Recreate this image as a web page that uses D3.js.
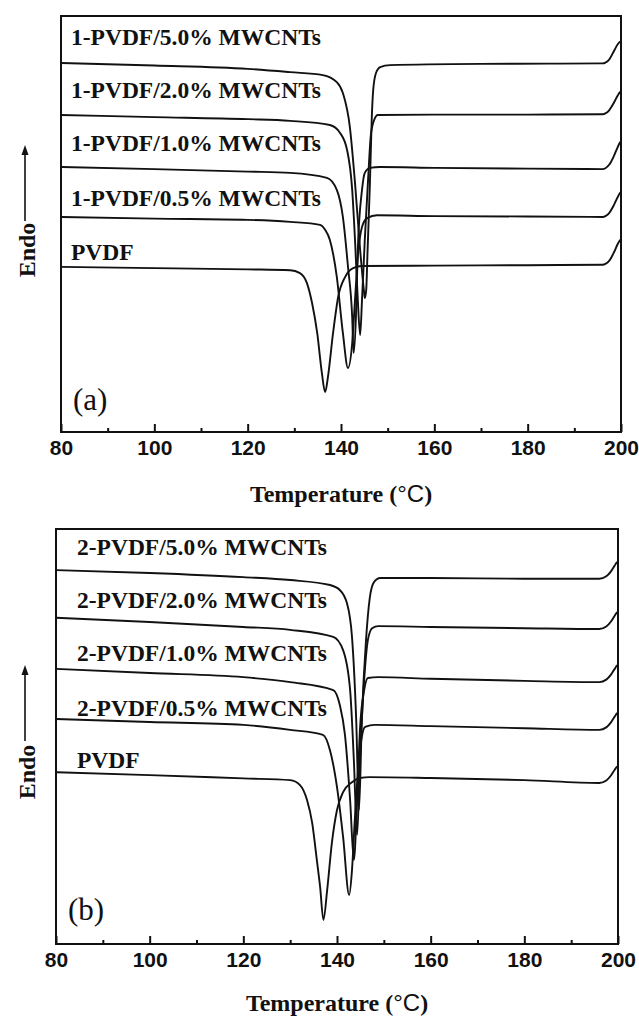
<!DOCTYPE html>
<html>
<head>
<meta charset="utf-8">
<script src="https://cdn.jsdelivr.net/npm/d3@7"></script>
<style>
  body { margin: 0; background: #fff; }
</style>
</head>
<body>
<div id="chart"></div>
<script>
// 目盛り
const xTicks = [80, 100, 120, 140, 160, 180, 200];
const xMinorTicks = [90, 110, 130, 150, 170, 190];

// (a) 1-PVDF 系列 [温度, 熱流(a.u.)]
const labelsA = ["1-PVDF/5.0% MWCNTs", "1-PVDF/2.0% MWCNTs", "1-PVDF/1.0% MWCNTs", "1-PVDF/0.5% MWCNTs", "PVDF"];
const a_5 = [[80, 88.7], [100, 88.1], [120, 87.3], [129.1, 86.5], [136.1, 85.8], [139.1, 84.1], [140.4, 81.5], [141.9, 73.3], [143.0, 59.9], [144.1, 43.8], [144.9, 34.1], [145.1, 32.2], [145.4, 34.1], [145.7, 43.8], [146.2, 59.9], [146.6, 75.7], [146.9, 82.2], [147.5, 86.3], [148.4, 87.7], [150.5, 88.2], [170, 88.5], [196, 88.6], [197.5, 89.6], [198.5, 91.6], [199.3, 93.2], [199.8, 93.8], [200, 93.9]];
const a_2 = [[80, 76.2], [100, 75.7], [120, 75.2], [129.1, 74.8], [137.6, 73.8], [139.8, 71.9], [141.3, 67.8], [142.4, 58.2], [143.0, 46.2], [143.6, 31.7], [144.1, 23.3], [144.5, 31.7], [145.1, 46.2], [145.8, 60.6], [146.4, 71.4], [147.1, 75.0], [147.9, 76.2], [160, 76.3], [180, 76.3], [196, 76.4], [197.5, 77.4], [198.5, 79.2], [199.3, 80.9], [199.8, 81.7], [200, 81.8]];
const a_1 = [[80, 63.7], [100, 63.2], [120, 62.6], [129.1, 62.3], [137.0, 61.1], [139.1, 58.2], [140.4, 51.7], [141.5, 39.7], [142.4, 27.6], [142.7, 19.0], [143.2, 27.6], [143.6, 43.8], [144.5, 58.2], [145.1, 62.3], [146.2, 63.5], [148.4, 63.7], [160, 63.5], [180, 63.3], [196, 63.2], [197.5, 64.3], [198.5, 66.4], [199.3, 68.5], [199.8, 69.6], [200, 69.8]];
const a_05 = [[80, 51.7], [100, 51.3], [120, 51.0], [129.1, 50.5], [135.5, 49.8], [136.6, 48.6], [137.6, 46.2], [139.1, 37.3], [140.4, 23.8], [141.5, 15.4], [142.4, 21.4], [143.0, 31.7], [143.6, 42.1], [144.5, 49.3], [145.6, 51.4], [147.7, 52.1], [160, 51.9], [180, 51.8], [196, 51.7], [197.5, 52.7], [198.5, 54.6], [199.3, 56.5], [199.8, 57.5], [200, 57.7]];
const a_pvdf = [[80, 39.7], [100, 39.4], [120, 39.1], [129.1, 38.9], [131.2, 38.2], [132.7, 35.8], [133.8, 31.0], [134.9, 23.8], [135.9, 14.2], [136.6, 9.6], [137.2, 13.2], [138.3, 23.8], [139.4, 32.5], [140.9, 37.3], [142.6, 39.4], [144.5, 39.9], [160, 40.0], [180, 40.1], [196, 40.2], [197.5, 41.2], [198.5, 43.2], [199.3, 45.2], [199.8, 46.1], [200, 46.3]];

// (b) 2-PVDF 系列
const labelsB = ["2-PVDF/5.0% MWCNTs", "2-PVDF/2.0% MWCNTs", "2-PVDF/1.0% MWCNTs", "2-PVDF/0.5% MWCNTs", "PVDF"];
const b_5 = [[80, 90.1], [100, 89.4], [120, 88.4], [130, 87.7], [138.5, 86.5], [140.6, 85.3], [142.1, 82.2], [143.2, 74.0], [144.1, 54.0], [144.7, 32.3], [145.3, 54.0], [146.2, 73.3], [147.0, 83.4], [147.9, 87.2], [149.2, 88.2], [160, 88.2], [180, 88.0], [196, 88.0], [197.5, 88.6], [198.5, 89.8], [199.3, 91.2], [199.8, 92.0], [200, 92.1]];
const b_2 = [[80, 78.6], [100, 77.6], [120, 76.4], [130, 75.7], [139.2, 74.0], [141.3, 70.8], [142.8, 61.2], [143.6, 44.3], [144.3, 26.3], [144.9, 44.3], [145.8, 63.6], [146.6, 73.3], [147.5, 76.1], [148.8, 76.6], [160, 76.4], [180, 76.1], [196, 75.9], [197.5, 76.5], [198.5, 77.7], [199.3, 79.1], [199.8, 79.9], [200, 80.0]];
const b_1 = [[80, 66.3], [100, 65.3], [120, 64.3], [130, 63.1], [139.2, 61.2], [140.6, 57.6], [141.7, 50.4], [142.8, 34.7], [143.6, 20.2], [144.3, 34.7], [144.9, 51.6], [145.8, 61.2], [146.6, 64.1], [148.8, 64.3], [160, 63.9], [180, 63.4], [196, 63.1], [197.5, 63.7], [198.5, 64.9], [199.3, 66.3], [199.8, 67.1], [200, 67.2]];
const b_05 = [[80, 54.2], [100, 53.5], [120, 52.8], [130, 51.6], [137.0, 50.4], [138.5, 46.7], [140.0, 37.8], [141.3, 25.8], [142.6, 11.8], [143.2, 17.8], [143.8, 29.9], [144.5, 41.9], [145.3, 49.9], [146.0, 52.3], [148.1, 52.8], [160, 52.5], [180, 52.0], [196, 51.6], [197.5, 52.2], [198.5, 53.4], [199.3, 54.8], [199.8, 55.6], [200, 55.7]];
const b_pvdf = [[80, 41.4], [100, 40.7], [120, 39.9], [130, 39.5], [132.1, 38.3], [133.6, 34.7], [134.7, 29.2], [135.7, 20.2], [136.4, 13.7], [137.1, 5.8], [137.9, 13.0], [138.9, 24.3], [140.0, 32.3], [141.3, 36.6], [143.2, 39.0], [144.9, 40.0], [147.0, 40.2], [160, 40.0], [180, 39.5], [196, 38.8], [197.5, 39.4], [198.5, 40.6], [199.3, 42.0], [199.8, 42.7], [200, 42.8]];

const width = 639;
const height = 1016;
const serif = "'Liberation Serif', 'Times New Roman', serif";
const sans = "'Liberation Sans', Arial, sans-serif";

const svg = d3.select("#chart")
  .append("svg")
  .attr("width", width)
  .attr("height", height);

// 各パネルのレイアウト
const panels = [
  { left: 61, right: 621, top: 16, bottom: 432, series: [a_5, a_2, a_1, a_05, a_pvdf], labels: labelsA,
    labelX: 10, labelY: [45, 98, 151, 206, 260], tag: "(a)", tagY: 410, endoY: 250, arrow: [221, 145], titleY: 502 },
  { left: 56, right: 618, top: 529, bottom: 944, series: [b_5, b_2, b_1, b_05, b_pvdf], labels: labelsB,
    labelX: 21, labelY: [555, 608, 661, 716, 768], tag: "(b)", tagY: 920, endoY: 772, arrow: [741, 665], titleY: 1011 }
];

panels.forEach(function (p) {
  const x = d3.scaleLinear().domain([80, 200]).range([p.left, p.right]);
  const y = d3.scaleLinear().domain([0, 100]).range([p.bottom, p.top]);

  const line = d3.line()
    .x(d => x(d[0]))
    .y(d => y(d[1]))
    .curve(d3.curveMonotoneX);

  // 曲線
  svg.append("g")
    .selectAll("path")
    .data(p.series)
    .enter()
    .append("path")
    .attr("d", line)
    .attr("fill", "none")
    .attr("stroke", "#111")
    .attr("stroke-width", 1.9)
    .attr("stroke-linejoin", "round");

  // 枠
  svg.append("rect")
    .attr("x", p.left)
    .attr("y", p.top)
    .attr("width", p.right - p.left)
    .attr("height", p.bottom - p.top)
    .attr("fill", "none")
    .attr("stroke", "#111")
    .attr("stroke-width", 2);

  // X軸（内向きの目盛り）
  const axis = svg.append("g")
    .attr("transform", `translate(0,${p.bottom})`)
    .call(d3.axisBottom(x).tickValues(xTicks).tickSize(-8).tickPadding(8));
  axis.select(".domain").remove();
  axis.selectAll("line").attr("stroke", "#111").attr("stroke-width", 2);
  axis.selectAll("text")
    .attr("fill", "#111")
    .style("font-family", sans)
    .style("font-weight", "bold")
    .style("font-size", "21px");

  const minor = svg.append("g")
    .attr("transform", `translate(0,${p.bottom})`)
    .call(d3.axisBottom(x).tickValues(xMinorTicks).tickSize(-4).tickFormat(""));
  minor.select(".domain").remove();
  minor.selectAll("line").attr("stroke", "#111").attr("stroke-width", 2);

  // 系列ラベル
  svg.append("g")
    .selectAll("text")
    .data(p.labels)
    .enter()
    .append("text")
    .attr("x", p.left + p.labelX)
    .attr("y", (d, i) => p.labelY[i])
    .style("font-family", serif)
    .style("font-weight", "bold")
    .style("font-size", "23.5px")
    .attr("fill", "#111")
    .text(d => d);

  // (a), (b)
  svg.append("text")
    .attr("x", p.left + 12)
    .attr("y", p.tagY)
    .style("font-family", serif)
    .style("font-size", "31px")
    .attr("fill", "#111")
    .text(p.tag);

  // 軸タイトル
  const title = svg.append("text")
    .attr("x", (p.left + p.right) / 2)
    .attr("y", p.titleY)
    .attr("text-anchor", "middle")
    .style("font-family", serif)
    .style("font-weight", "bold")
    .style("font-size", "24px")
    .attr("fill", "#111");
  title.append("tspan").text("Temperature (");
  title.append("tspan").style("font-family", sans).style("font-weight", "normal").text("\u00B0C");
  title.append("tspan").text(")");

  // Endo と矢印
  svg.append("text")
    .attr("transform", `translate(35,${p.endoY}) rotate(-90)`)
    .attr("text-anchor", "middle")
    .style("font-family", serif)
    .style("font-weight", "bold")
    .style("font-size", "24px")
    .attr("fill", "#111")
    .text("Endo");

  svg.append("line")
    .attr("x1", 25).attr("x2", 25)
    .attr("y1", p.arrow[0]).attr("y2", p.arrow[1] + 8)
    .attr("stroke", "#111")
    .attr("stroke-width", 1.6);
  svg.append("path")
    .attr("d", `M25,${p.arrow[1]} L21.5,${p.arrow[1] + 10} L28.5,${p.arrow[1] + 10} Z`)
    .attr("fill", "#111");
});
</script>
</body>
</html>
